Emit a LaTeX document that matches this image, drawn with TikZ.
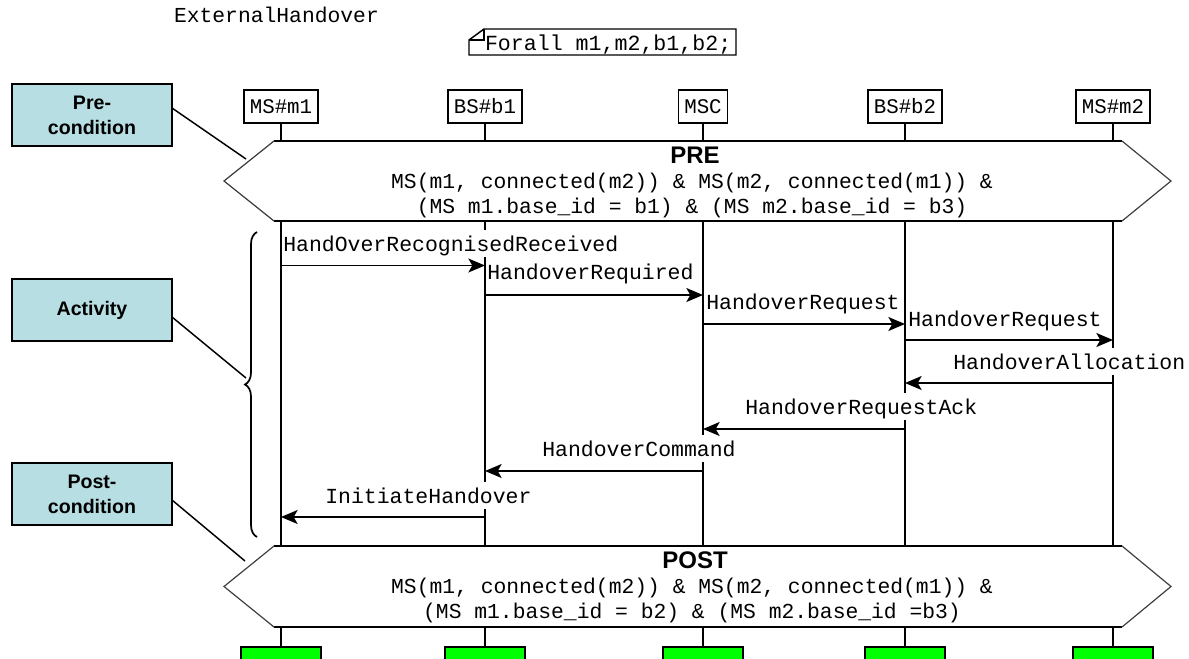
\documentclass[tikz,border=0pt]{standalone}
\usepackage{fontspec}
\setmainfont{Liberation Sans}
\newfontfamily\monofam{Liberation Mono}
\usetikzlibrary{arrows.meta,decorations.pathreplacing,calc}
\definecolor{notefill}{RGB}{183,222,226}
\definecolor{barfill}{RGB}{0,255,0}

\begin{document}
\begin{tikzpicture}[x=0.75pt,y=-0.75pt,
  every node/.style={inner sep=0pt, outer sep=0pt},
  thin line/.style={line width=1.1pt, draw=black},
  head/.style={draw, line width=1.1pt, fill=white, minimum height=24.75pt,
    inner xsep=4.5pt, font=\monofam\fontsize{15.6}{18}\selectfont},
  msglabel/.style={fill=white, anchor=base west, inner xsep=1pt,
    text height=15.5pt, text depth=4.5pt, font=\monofam\fontsize{16.1}{19}\selectfont},
  msg/.style={line width=1.1pt, -{Stealth[length=12.5pt,width=10.5pt,inset=3pt]}},
  cond/.style={anchor=base, font=\monofam\fontsize{16}{19}\selectfont},
  condhead/.style={anchor=base, font=\bfseries\fontsize{18}{21}\selectfont},
  callout/.style={draw, line width=1.8pt, fill=notefill, minimum width=120pt,
    minimum height=46.5pt, align=center, font=\bfseries\fontsize{14.7}{18.75}\selectfont},
  endbar/.style={draw, line width=1pt, fill=barfill, minimum width=60pt,
    minimum height=15pt, anchor=north},
  hexedge/.style={line width=1.1pt, draw=black},
  hexslant/.style={line width=0.9pt, draw=black!75},
  plain/.style={anchor=base west, font=\monofam\fontsize{16}{19}\selectfont},
]
\fill[white] (0,0) rectangle (1189,658);
\useasboundingbox (0,0) rectangle (1189,658);

% diagram name and declaration note
\node[plain] (title) at (174,22) {ExternalHandover};
\draw[thin line, line join=miter] (469,55) -- (469,40) -- (484,29) -- (736,29) -- (736,55) -- cycle;
\draw[line width=0.8pt] (469,40) -- (484,40) -- (484,29);
\node[plain, font=\monofam\fontsize{16.2}{19}\selectfont] (forall) at (485,50) {Forall m1,m2,b1,b2;};

% instance heads
\node[head] (m1)  at (281,106.5)  {MS\#m1};
\node[head] (b1)  at (485,106.5)  {BS\#b1};
\node[head] (msc) at (703,106.5)  {MSC};
\node[head] (b2)  at (905,106.5)  {BS\#b2};
\node[head] (m2)  at (1113,106.5) {MS\#m2};

% instance ends and lifelines
\foreach \n in {m1,b1,msc,b2,m2} {
  \node[endbar] (bar\n) at (\n |- 0,647) {};
  \draw[thin line] (\n.south) -- (\n |- 0,141);
  \draw[thin line] (\n |- 0,221) -- (\n |- 0,546);
  \draw[thin line] (\n |- 0,627) -- (bar\n.north);
}

% precondition
\fill[white] (274,141) -- (1122,141) -- (1171,181) -- (1122,221) -- (274,221)
  -- (224,181) coordinate (preTip) -- cycle;
\draw[hexedge] (274,141) -- (1122,141) (274,221) -- (1122,221);
\draw[hexslant] (274,141) -- (preTip) -- (274,221) (1122,141) -- (1171,181) -- (1122,221);
\node[condhead] (pretitle) at (695,163) {PRE};
\node[cond] (pre1) at (692,188) {MS(m1, connected(m2)) \& MS(m2, connected(m1)) \&};
\node[cond] (pre2) at (692,213) {(MS m1.base\_id = b1) \& (MS m2.base\_id = b3)};

% postcondition
\fill[white] (274,546) -- (1122,546) -- (1171,586.5) -- (1122,627) -- (274,627)
  -- (224,586.5) coordinate (postTip) -- cycle;
\draw[hexedge] (274,546) -- (1122,546) (274,627) -- (1122,627);
\draw[hexslant] (274,546) -- (postTip) -- (274,627) (1122,546) -- (1171,586.5) -- (1122,627);
\node[condhead] (posttitle) at (695,568) {POST};
\node[cond] (post1) at (692,593) {MS(m1, connected(m2)) \& MS(m2, connected(m1)) \&};
\node[cond] (post2) at (692,618) {(MS m1.base\_id = b2) \& (MS m2.base\_id =b3)};

% message labels (white ground hides the lifelines behind them)
\node[msglabel] (l1) at (282,251) {HandOverRecognisedReceived};
\node[msglabel] (l2) at (486,279) {HandoverRequired};
\node[msglabel] (l3) at (705,309) {HandoverRequest};
\node[msglabel] (l4) at (907,326) {HandoverRequest};
\node[msglabel] (l5) at (952,369) {HandoverAllocation};
\node[msglabel] (l6) at (744,414) {HandoverRequestAck};
\node[msglabel] (l7) at (541,456) {HandoverCommand};
\node[msglabel] (l8) at (324,503) {InitiateHandover};

% messages
\draw[msg] (m1 |- 0,265.5) -- (b1 |- 0,265.5);
\draw[msg] (b1 |- 0,295) -- (msc |- 0,295);
\draw[msg] (msc |- 0,324) -- (b2 |- 0,324);
\draw[msg] (b2 |- 0,340) -- (m2 |- 0,340);
\draw[msg] (m2 |- 0,383) -- (b2 |- 0,383);
\draw[msg] (b2 |- 0,429) -- (msc |- 0,429);
\draw[msg] (msc |- 0,471) -- (b1 |- 0,471);
\draw[msg] (b1 |- 0,517) -- (m1 |- 0,517);

% activity brace
\coordinate (braceTop) at (257,232);
\coordinate (braceBot) at (257,537);
\draw[line width=1.3pt, decorate, decoration={brace, amplitude=9pt}] (braceBot) -- (braceTop);

% callouts
\node[callout] (precall)  at (92,115) {Pre-\\condition};
\node[callout] (actcall)  at (92,310) {Activity};
\node[callout] (postcall) at (92,494) {Post-\\condition};
\coordinate (preHit)  at (246,159);
\coordinate (actHit)  at (246,378);
\coordinate (postHit) at (245,561);
\draw[thin line] (precall.east |- 0,108) -- (preHit);
\draw[thin line] (actcall.east |- 0,317) -- (actHit);
\draw[thin line] (postcall.east |- 0,500) -- (postHit);
\end{tikzpicture}
\end{document}
